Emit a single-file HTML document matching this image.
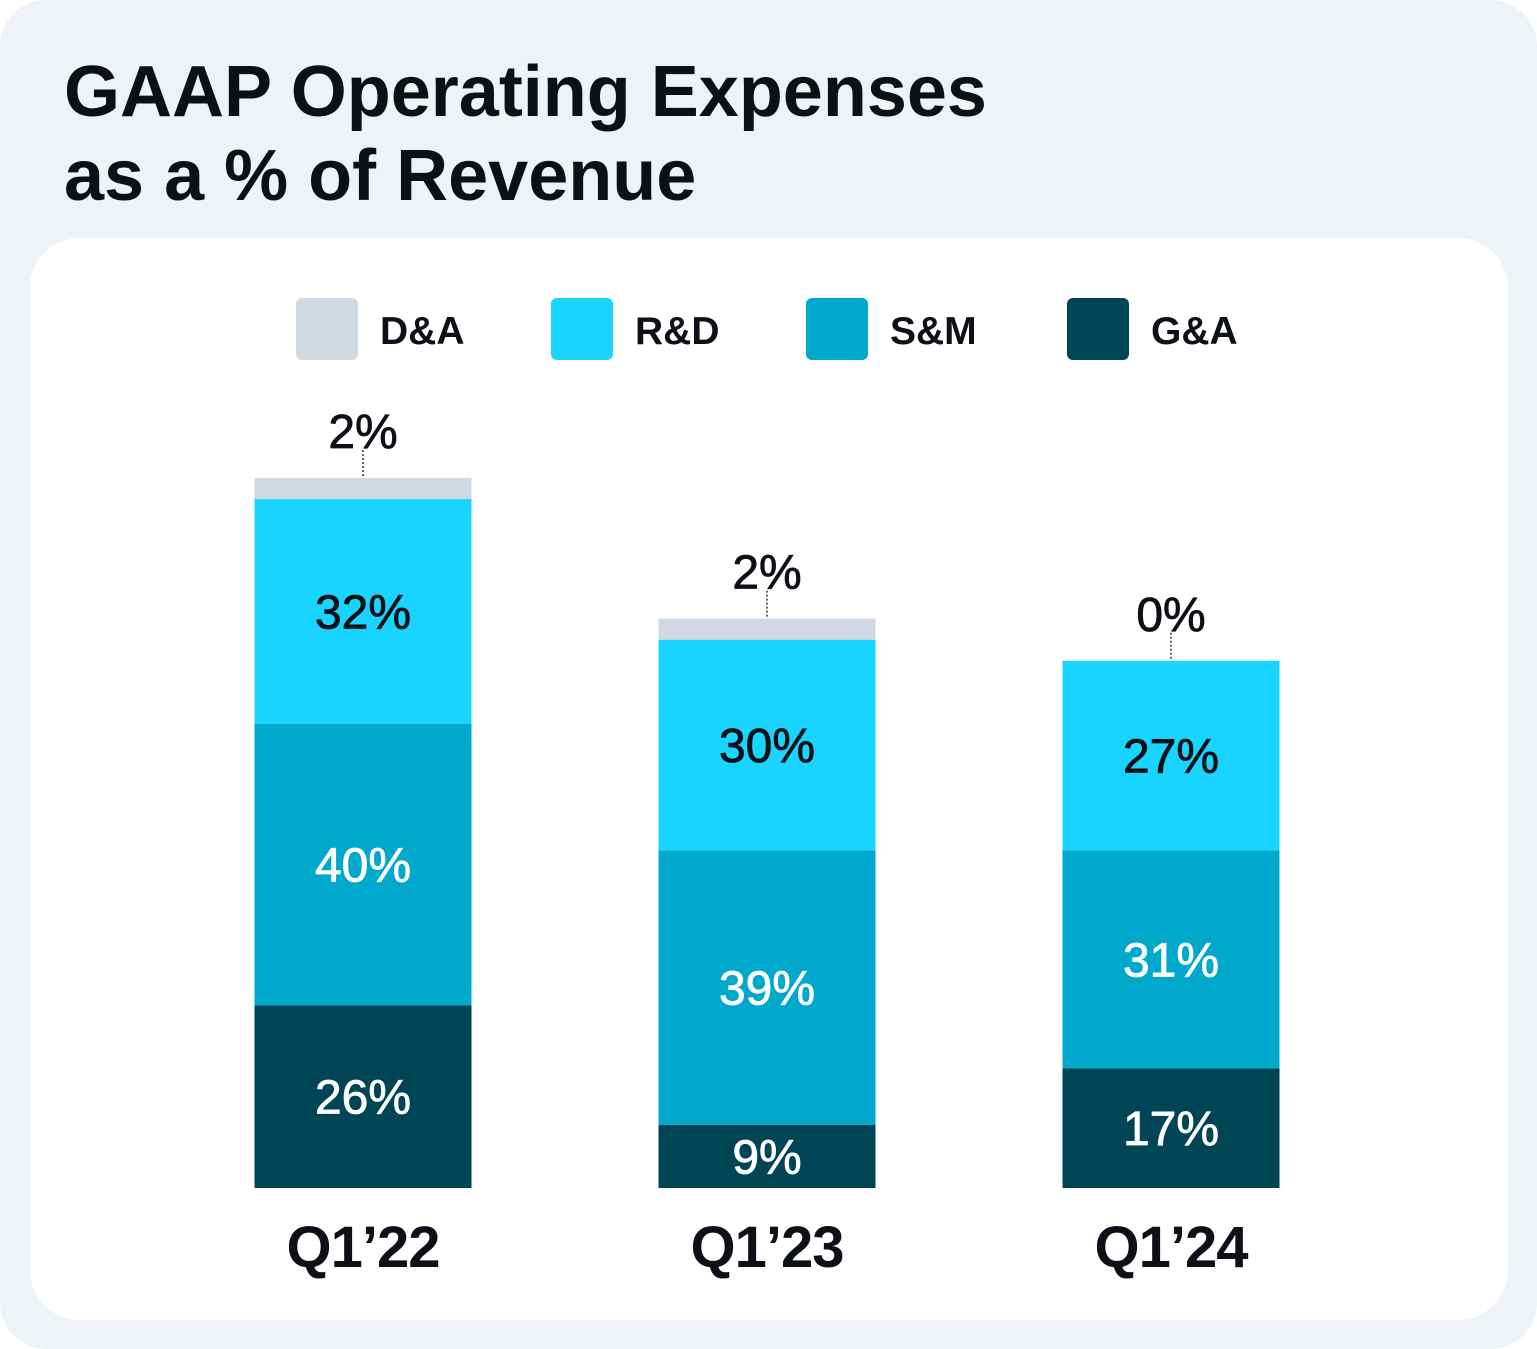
<!DOCTYPE html>
<html><head><meta charset="utf-8"><style>
html,body{margin:0;padding:0;background:#fff;}
#outer{position:absolute;left:0;top:0;width:1537px;height:1349px;background:#eff3f8;border-radius:46px;overflow:hidden;font-family:"Liberation Sans",sans-serif;}
#title{position:absolute;left:64px;top:50px;font-size:72px;font-weight:bold;line-height:84px;color:#0d1117;letter-spacing:0px;margin:0;}
#card{position:absolute;left:30px;top:238px;width:1478px;height:1082px;background:#fff;border-radius:50px;}
</style></head><body>
<div id="outer">
<h1 id="title">GAAP Operating Expenses<br>as a % of Revenue</h1>
<div id="card"></div>
<svg id="chart" width="1537" height="1349" style="position:absolute;left:0;top:0"></svg>
</div>
<script>
const categories=["Q1\u201922","Q1\u201923","Q1\u201924"];
const gaValues=[26,9,17];
const smValues=[40,39,31];
const rdValues=[32,30,27];
const daValues=[3,3,0];
const daLabels=["2%","2%","0%"];
const seriesNames=["D&A","R&D","S&M","G&A"];
const seriesColors=["#d0d9e1","#18d4fe","#00a8cc","#004555"];
const NS="http://www.w3.org/2000/svg";
const svg=document.getElementById('chart');
const baseY=1188, pxPer=7.03, barW=217;
function xCenter(i){return 363+i*404;}
function yScale(v){return v*pxPer;}
function mk(t,a){const e=document.createElementNS(NS,t);for(const k in a)e.setAttribute(k,a[k]);svg.appendChild(e);return e;}
const legX=[296,551,806,1067];
seriesNames.forEach((n,i)=>{
  const r=mk('rect',{x:legX[i],y:298,width:62,height:62,rx:6,fill:seriesColors[i]});
  
  
  const t=mk('text',{x:legX[i]+84,y:344,'font-size':39,'font-family':'Liberation Sans, sans-serif','font-weight':'bold',fill:'#0d1117'});
  t.textContent=n;
  
  
});
categories.forEach((c,i)=>{
  const cx=xCenter(i);let y=baseY;
  const segs=[[gaValues[i],3,'ga','#fff'],[smValues[i],2,'sm','#fff'],[rdValues[i],1,'rd','#0d1117']];
  segs.forEach(s=>{
    const h=yScale(s[0]);y-=h;
    const r=mk('rect',{x:cx-barW/2,y:y,width:barW,height:h,fill:seriesColors[s[1]]});
    
    
    const t=mk('text',{x:cx,y:y+h/2+17,'text-anchor':'middle','font-size':48,'font-family':'Liberation Sans, sans-serif','font-weight':'500',fill:s[3],stroke:s[3],'stroke-width':0.8});
    t.textContent=s[0]+'%';
    
    
  });
  const dh=yScale(daValues[i]);y-=dh;
  if(dh>0){const r=mk('rect',{x:cx-barW/2,y:y,width:barW,height:dh,fill:seriesColors[0]});
    
    }
  const l=mk('line',{x1:cx,x2:cx,y1:y-28,y2:y,stroke:'#333','stroke-width':1.5,'stroke-dasharray':'2,2'});
  
  
  const t=mk('text',{x:cx,y:y-30,'text-anchor':'middle','font-size':48,'font-family':'Liberation Sans, sans-serif','font-weight':'500',fill:'#0d1117',stroke:'#0d1117','stroke-width':0.8});
  t.textContent=daLabels[i];
  
  
  const xl=mk('text',{x:cx,y:1267,'text-anchor':'middle','font-size':58,'font-family':'Liberation Sans, sans-serif','font-weight':'bold',fill:'#0d1117','letter-spacing':'-1'});
  xl.textContent=c;
  
  
});
</script>
</body></html>
